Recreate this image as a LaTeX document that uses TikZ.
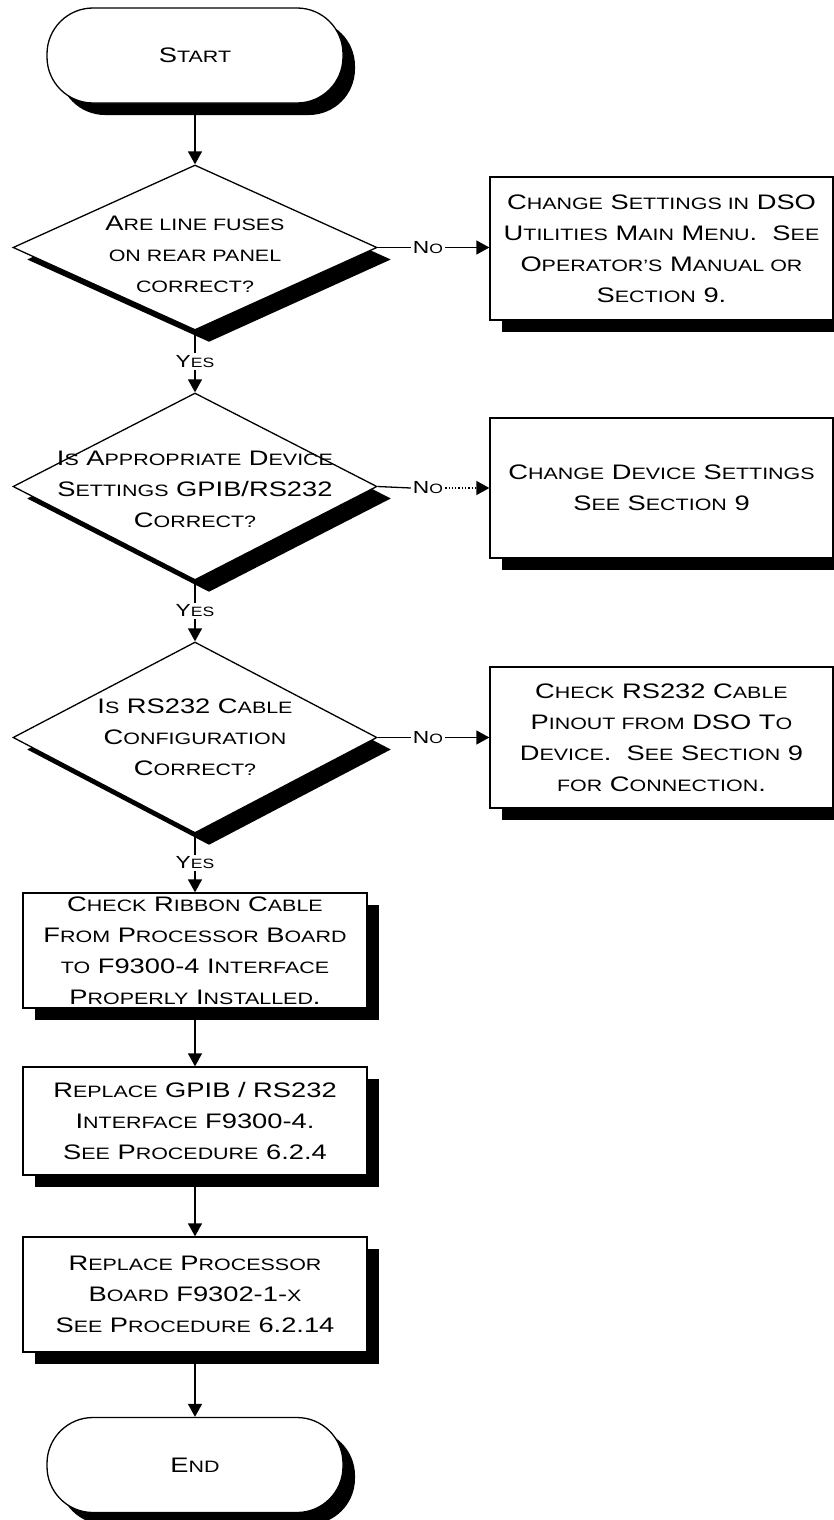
\documentclass[tikz,border=0pt]{standalone}
\usepackage{fontspec}
\setmainfont{Liberation Sans}[FakeStretch=1.3]
\usetikzlibrary{shapes.geometric,arrows.meta,shadows}
\newcommand\lc[1]{{\fontsize{16.5pt}{31pt}\selectfont #1}}
\newcommand\lcs[1]{{\fontsize{13.5pt}{16pt}\selectfont #1}}
\tikzset{
  base/.style={draw=black, line width=1.3pt, fill=white, inner sep=0pt, align=center,
     font=\fontsize{21pt}{31pt}\selectfont},
  shad/.style={drop shadow={opacity=1, fill=black, shadow xshift=12pt, shadow yshift=-12pt}},
  term/.style={base, shad, rounded corners=46pt, minimum width=296pt, minimum height=95pt},
  dec/.style={base, diamond, drop shadow={opacity=1, fill=black, shadow xshift=14pt, shadow yshift=-12pt}, minimum width=364pt},
  dtext/.style={align=center, inner sep=0pt, font=\fontsize{21pt}{31pt}\selectfont},
  procbox/.style={base, shad, rectangle, minimum width=344pt},
  lbl/.style={fill=white, inner sep=2pt, font=\fontsize{17.5pt}{19pt}\selectfont},
  arr/.style={line width=1.3pt, -{Triangle[length=13pt,width=14pt]}},
  ln/.style={line width=1.3pt}
}
\begin{document}
\begin{tikzpicture}[x=1pt,y=-1pt]
\clip (0,0) rectangle (834,1520);
\fill[white] (0,0) rectangle (834,1520);

\node[term] (start) at (195,55.5) {S\lc{TART}};

\node[dec, minimum height=165pt] (d1) at (195,247.5) {};
\node[dtext] (d1t) at (195,254) {A\lc{RE LINE FUSES}\\ \lc{ON REAR PANEL}\\ \lc{CORRECT?}};

\node[dec, minimum height=187pt] (d2) at (195,486.5) {};
\node[dtext] (d2t) at (195,489) {I\lc{S} A\lc{PPROPRIATE} D\lc{EVICE}\\ S\lc{ETTINGS} GPIB/RS232\\ C\lc{ORRECT?}};

\node[dec, minimum height=191pt] (d3) at (195,737.5) {};
\node[dtext] (d3t) at (195,737) {I\lc{S} RS232 C\lc{ABLE}\\ C\lc{ONFIGURATION}\\ C\lc{ORRECT?}};

\node[procbox, minimum width=343pt, minimum height=143pt] (b1) at (661.5,248.5)
  {C\lc{HANGE} S\lc{ETTINGS IN} DSO\\ U\lc{TILITIES} M\lc{AIN} M\lc{ENU}.\ \ S\lc{EE}\\ O\lc{PERATOR'S} M\lc{ANUAL OR}\\ S\lc{ECTION} 9.};
\node[procbox, minimum width=343pt, minimum height=140pt] (b2) at (661.5,488)
  {C\lc{HANGE} D\lc{EVICE} S\lc{ETTINGS}\\ S\lc{EE} S\lc{ECTION} 9};
\node[procbox, minimum width=343pt, minimum height=141pt] (b3) at (661.5,737.5)
  {C\lc{HECK} RS232 C\lc{ABLE}\\ P\lc{INOUT FROM} DSO T\lc{O}\\ D\lc{EVICE}.\ \ S\lc{EE} S\lc{ECTION} 9\\ \lc{FOR} C\lc{ONNECTION}.};

\node[procbox, minimum height=115pt] (b4) at (195,950.5)
  {C\lc{HECK} R\lc{IBBON} C\lc{ABLE}\\ F\lc{ROM} P\lc{ROCESSOR} B\lc{OARD}\\ \lc{TO} F9300-4 I\lc{NTERFACE}\\ P\lc{ROPERLY} I\lc{NSTALLED}.};
\node[procbox, minimum height=108pt] (b5) at (195,1121)
  {R\lc{EPLACE} GPIB / RS232\\ I\lc{NTERFACE} F9300-4.\\ S\lc{EE} P\lc{ROCEDURE} 6.2.4};
\node[procbox, minimum height=115pt] (b6) at (195,1294.5)
  {R\lc{EPLACE} P\lc{ROCESSOR}\\ B\lc{OARD} F9302-1-\lc{X}\\ S\lc{EE} P\lc{ROCEDURE} 6.2.14};

\node[term] (end) at (195,1465) {E\lc{ND}};

% vertical flow
\draw[arr] (start) -- (d1);
\draw[arr] (d1) -- node[lbl] (y1) {Y\lcs{ES}} (d2);
\draw[arr] (d2) -- node[lbl] (y2) {Y\lcs{ES}} (d3);
\draw[arr] (d3) -- node[lbl] (y3) {Y\lcs{ES}} (b4);
\draw[arr] (b4) -- (b5);
\draw[arr] (b5) -- (b6);
\draw[arr] (b6) -- (end);

% No branches
\draw[arr] (d1.east) -- node[lbl, pos=0.45] (n1) {N\lcs{O}} (b1.west |- d1.east);
\node[lbl] (n2) at (428,488) {N\lcs{O}};
\draw[ln] (d2.east) -- (n2.west);
\draw[arr, dotted] (n2.east) -- (b2.west |- n2.east);
\draw[arr] (d3.east) -- node[lbl, pos=0.45] (n3) {N\lcs{O}} (b3.west |- d3.east);
\end{tikzpicture}
\end{document}
